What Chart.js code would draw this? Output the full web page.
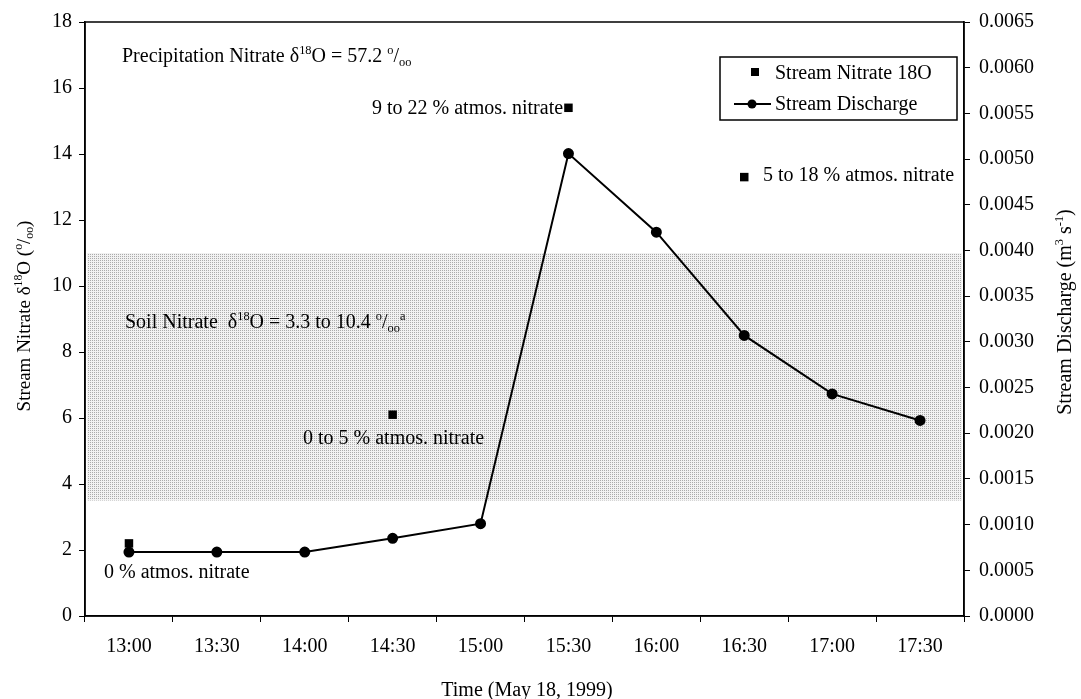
<!DOCTYPE html>
<html>
<head>
<meta charset="utf-8">
<script src="https://cdn.jsdelivr.net/npm/chart.js@4.4.1/dist/chart.umd.min.js"></script>
<style>
  html, body { margin: 0; padding: 0; background: #fff; }
  #wrap { width: 1081px; height: 699px; }
</style>
</head>
<body>
<div id="wrap"><canvas id="chart" width="1081" height="699"></canvas></div>
<script>
const times = ["13:00", "13:30", "14:00", "14:30", "15:00", "15:30", "16:00", "16:30", "17:00", "17:30"];
const nitrate18O = [2.2, null, null, 6.1, null, 15.4, null, 13.3, null, null];
const discharge = [0.0007, 0.0007, 0.0007, 0.00085, 0.00101, 0.00506, 0.0042, 0.00307, 0.00243, 0.00214];
const soilBand = [3.5, 11];
const leftMax = 18;
const rightMax = 0.0065;

const FONT = "Liberation Serif, Times New Roman, serif";
const FS = 20;

// draw text made of normal / sup / sub pieces
function richText(ctx, parts, x, y, size) {
  let cx = x;
  parts.forEach(p => {
    let s = size, dy = 0;
    if (p[1] === "sup") { s = size * 0.62; dy = -size * 0.42; }
    if (p[1] === "sub") { s = size * 0.62; dy = size * 0.18; }
    ctx.font = s + "px " + FONT;
    ctx.fillText(p[0], cx, y + dy);
    cx += ctx.measureText(p[0]).width;
  });
  return cx - x;
}
function richWidth(ctx, parts, size) {
  let w = 0;
  parts.forEach(p => {
    const s = p[1] ? size * 0.62 : size;
    ctx.font = s + "px " + FONT;
    w += ctx.measureText(p[0]).width;
  });
  return w;
}

const permil = [["o", "sup"], ["/"], ["oo", "sub"]];

function makePattern() {
  const c = document.createElement("canvas");
  c.width = 2; c.height = 2;
  const g = c.getContext("2d");
  g.fillStyle = "#f2f2f2"; g.fillRect(0, 0, 2, 2);
  g.fillStyle = "#ababab"; g.fillRect(0, 0, 1, 1);
  return g.createPattern(c, "repeat");
}

const bandPlugin = {
  id: "band",
  beforeDatasetsDraw(chart) {
    const { ctx, chartArea: a, scales } = chart;
    const yTop = scales.y.getPixelForValue(soilBand[1]);
    const yBot = scales.y.getPixelForValue(soilBand[0]);
    ctx.save();
    ctx.fillStyle = makePattern();
    ctx.fillRect(a.left + 2, yTop, a.right - a.left - 4, yBot - yTop);
    ctx.restore();
  },
  afterDraw(chart) {
    const { ctx, chartArea: a } = chart;
    ctx.save();
    ctx.strokeStyle = "#000";
    ctx.lineWidth = 1.5;
    ctx.strokeRect(a.left, a.top, a.right - a.left, a.bottom - a.top);

    ctx.fillStyle = "#000";
    ctx.textBaseline = "alphabetic";
    richText(ctx, [["Precipitation Nitrate δ"], ["18", "sup"], ["O = 57.2 "]].concat(permil), 122, 62, FS);
    richText(ctx, [["9 to 22 % atmos. nitrate"]], 372, 114, FS);
    richText(ctx, [["5 to 18 % atmos. nitrate"]], 763, 181, FS);
    richText(ctx, [["Soil Nitrate  δ"], ["18", "sup"], ["O = 3.3 to 10.4 "]].concat(permil).concat([["a", "sup"]]), 125, 328, FS);
    richText(ctx, [["0 to 5 % atmos. nitrate"]], 303, 444, FS);
    richText(ctx, [["0 % atmos. nitrate"]], 104, 578, FS);

    // legend
    ctx.fillStyle = "#fff";
    ctx.fillRect(720, 57, 237, 63);
    ctx.strokeStyle = "#000";
    ctx.lineWidth = 1.5;
    ctx.strokeRect(720, 57, 237, 63);
    ctx.fillStyle = "#000";
    ctx.fillRect(751, 68, 8, 8);
    ctx.lineWidth = 2;
    ctx.beginPath(); ctx.moveTo(734, 104); ctx.lineTo(771, 104); ctx.stroke();
    ctx.beginPath(); ctx.arc(752, 104, 4.5, 0, Math.PI * 2); ctx.fill();
    richText(ctx, [["Stream Nitrate 18O"]], 775, 79, FS);
    richText(ctx, [["Stream Discharge"]], 775, 110, FS);

    // axis titles
    const leftTitle = [["Stream Nitrate δ"], ["18", "sup"], ["O ("]].concat(permil).concat([[")"]]);
    let w = richWidth(ctx, leftTitle, 19);
    ctx.save();
    ctx.translate(30, 316);
    ctx.rotate(-Math.PI / 2);
    richText(ctx, leftTitle, -w / 2, 0, 19);
    ctx.restore();

    const rightTitle = [["Stream Discharge (m"], ["3", "sup"], [" s"], ["-1", "sup"], [")"]];
    w = richWidth(ctx, rightTitle, FS);
    ctx.save();
    ctx.translate(1071, 312);
    ctx.rotate(-Math.PI / 2);
    richText(ctx, rightTitle, -w / 2, 0, FS);
    ctx.restore();

    const xTitle = [["Time (May 18, 1999)"]];
    w = richWidth(ctx, xTitle, FS);
    richText(ctx, xTitle, 527 - w / 2, 696, FS);
    ctx.restore();
  }
};

const ctx = document.getElementById("chart").getContext("2d");

new Chart(ctx, {
  type: "line",
  data: {
    labels: times,
    datasets: [
      {
        label: "Stream Discharge",
        data: discharge,
        yAxisID: "y1",
        borderColor: "#000",
        backgroundColor: "#000",
        borderWidth: 2,
        pointRadius: 4.5,
        pointStyle: "circle",
        tension: 0
      },
      {
        label: "Stream Nitrate 18O",
        data: nitrate18O,
        yAxisID: "y",
        showLine: false,
        borderColor: "#000",
        backgroundColor: "#000",
        pointStyle: "rect",
        pointRadius: 6,
        borderWidth: 0
      }
    ]
  },
  options: {
    responsive: false,
    animation: false,
    layout: { padding: { top: 22, left: 0, right: 0, bottom: 0 } },
    plugins: {
      legend: { display: false },
      tooltip: { enabled: false }
    },
    scales: {
      x: {
        offset: true,
        grid: { offset: true, drawOnChartArea: false, tickLength: 6, color: "#000" },
        border: { color: "#000", width: 1.5 },
        ticks: { color: "#000", font: { family: FONT, size: FS }, padding: 13, maxRotation: 0 },
        afterFit(s) { s.height = 83; }
      },
      y: {
        position: "left",
        min: 0,
        max: leftMax,
        grid: { drawOnChartArea: false, tickLength: 6, color: "#000" },
        border: { color: "#000", width: 1.5 },
        ticks: { stepSize: 2, color: "#000", font: { family: FONT, size: FS }, padding: 7 },
        afterFit(s) { s.width = 85; }
      },
      y1: {
        position: "right",
        min: 0,
        max: rightMax,
        grid: { drawOnChartArea: false, tickLength: 6, color: "#000" },
        border: { color: "#000", width: 1.5 },
        ticks: {
          stepSize: 0.0005,
          color: "#000",
          font: { family: FONT, size: FS },
          padding: 9,
          callback: v => v.toFixed(4)
        },
        afterFit(s) { s.width = 117; }
      }
    }
  },
  plugins: [bandPlugin]
});
</script>
</body>
</html>
